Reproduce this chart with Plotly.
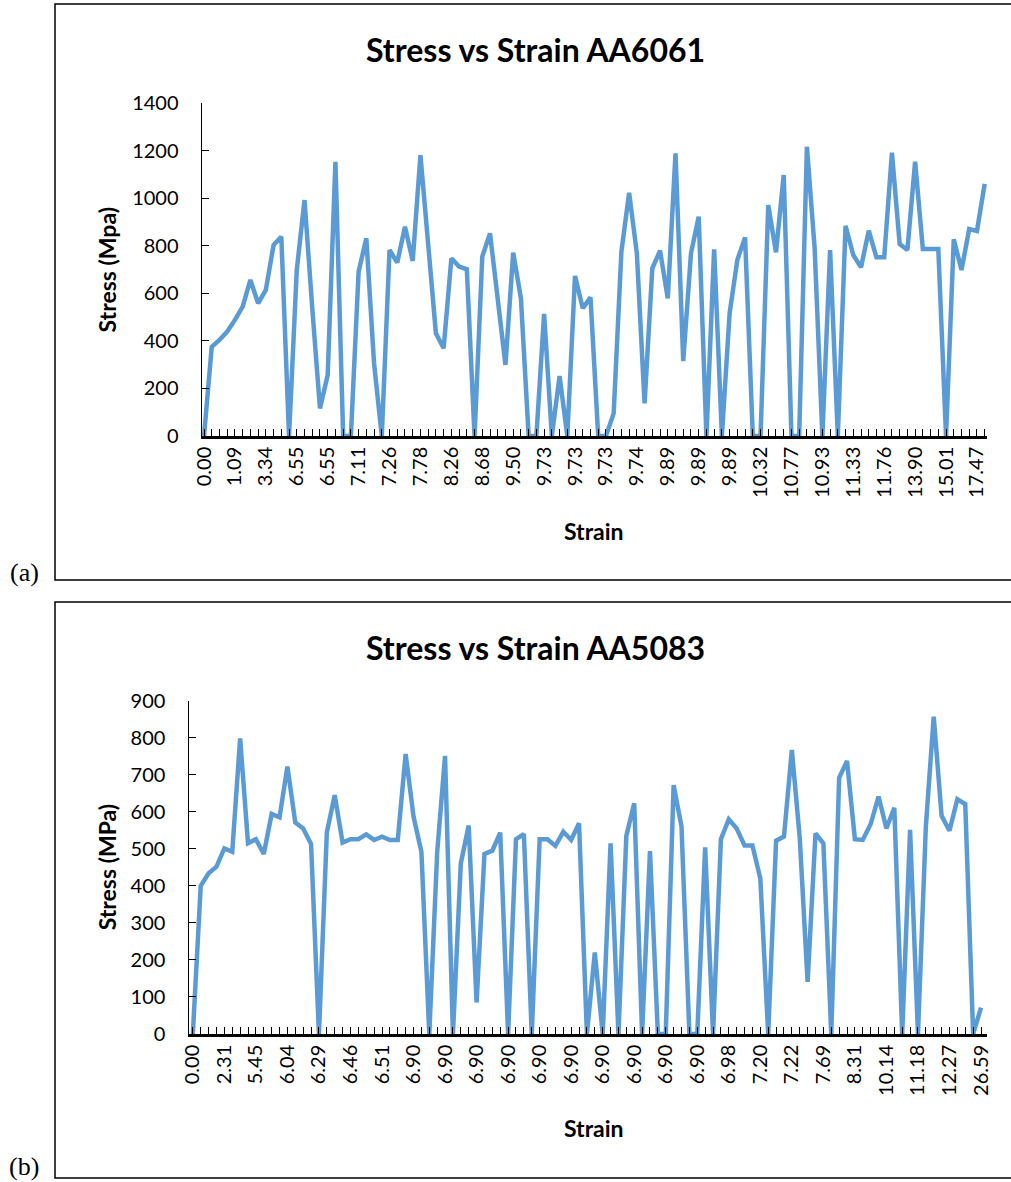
import plotly.graph_objects as go

W, H = 1011, 1182

# Stress readings (MPa) for every recorded point, AA6061
stress_6061 = [
    0, 375, 404, 439, 488, 544, 656, 558, 614, 803,
    838, 0, 698, 992, 540, 116, 256, 1153, 0, 0,
    691, 831, 305, 0, 782, 729, 880, 736, 1181, 800,
    432, 369, 747, 712, 701, 0, 754, 852, 576, 299,
    771, 579, 0, 0, 513, 0, 252, 0, 673, 537,
    583, 0, 0, 95, 775, 1023, 768, 137, 705, 779,
    579, 1188, 315, 768, 922, 0, 785, 0, 516, 740,
    835, 0, 0, 971, 772, 1097, 0, 0, 1216, 790,
    0, 782, 0, 884, 761, 709, 863, 751, 751, 1191,
    807, 782, 1153, 786, 786, 786, 0, 827, 698, 870,
    862, 1060,
]
# Strain values printed on every fourth category, AA6061
strain_ticks_6061 = [
    "0.00", "1.09", "3.34", "6.55", "6.55", "7.11", "7.26", "7.78", "8.26",
    "8.68", "9.50", "9.73", "9.73", "9.73", "9.74", "9.89", "9.89", "9.89",
    "10.32", "10.77", "10.93", "11.33", "11.76", "13.90", "15.01", "17.47",
]

# Stress readings (MPa) for every recorded point, AA5083
stress_5083 = [
    0, 400, 434, 452, 501, 492, 798, 515, 526, 486,
    594, 585, 722, 571, 555, 513, 0, 544, 645, 517,
    526, 526, 539, 524, 533, 524, 524, 756, 587, 492,
    0, 490, 751, 0, 461, 563, 85, 486, 495, 544,
    0, 526, 540, 0, 526, 526, 508, 546, 524, 569,
    0, 220, 0, 515, 0, 535, 623, 0, 494, 0,
    0, 672, 560, 0, 0, 504, 0, 526, 580, 555,
    509, 509, 420, 0, 522, 533, 767, 530, 141, 542,
    515, 0, 692, 737, 526, 524, 567, 641, 555, 611,
    0, 551, 0, 560, 857, 589, 549, 634, 621, 0,
    71,
]
# Strain values printed on every fourth category, AA5083
strain_ticks_5083 = [
    "0.00", "2.31", "5.45", "6.04", "6.29", "6.46", "6.51", "6.90", "6.90",
    "6.90", "6.90", "6.90", "6.90", "6.90", "6.90", "6.90", "6.90", "6.98",
    "7.20", "7.22", "7.69", "8.31", "10.14", "11.18", "12.27", "26.59",
]

LABEL_STEP = 4
LINE_COLOR = "#5B9BD5"
FONT = "Lato"


def px_x(v):
    """Pixel column -> paper x."""
    return v / W


def px_y(v):
    """Pixel row -> paper y."""
    return 1 - v / H


def category_ticks(n, labels):
    vals = list(range(n))
    text = [labels[i // LABEL_STEP] if i % LABEL_STEP == 0 else "" for i in vals]
    return vals, text


fig = go.Figure()

panels = [
    dict(stress=stress_6061, ticks=strain_ticks_6061, xa="x", ya="y",
         title="Stress vs Strain AA6061", ytitle="Stress (Mpa)",
         left=201.7, right=987, top=103, bottom=436,
         xrange=[-0.3, 101.3], yrange=[0, 1400], dy=200,
         box=(55, 4, 580), tag="(a)", tag_y=572, title_y=50, xtitle_y=531),
    dict(stress=stress_5083, ticks=strain_ticks_5083, xa="x2", ya="y2",
         title="Stress vs Strain AA5083", ytitle="Stress (MPa)",
         left=188.5, right=987, top=700.7, bottom=1034,
         xrange=[-0.55, 100.76], yrange=[0, 900], dy=100,
         box=(55, 602, 1178), tag="(b)", tag_y=1166, title_y=647, xtitle_y=1128),
]

layout_axes = {}
shapes = []
annotations = []

for k, p in enumerate(panels):
    n = len(p["stress"])
    fig.add_trace(go.Scatter(
        x=list(range(n)), y=p["stress"], mode="lines",
        line=dict(color=LINE_COLOR, width=4.5),
        xaxis=p["xa"], yaxis=p["ya"], showlegend=False, hoverinfo="x+y",
        cliponaxis=False,
    ))
    tv, tt = category_ticks(n, p["ticks"])
    suffix = "" if k == 0 else str(k + 1)
    layout_axes["xaxis" + suffix] = dict(
        domain=[px_x(p["left"]), px_x(p["right"])],
        anchor=p["ya"], range=p["xrange"], automargin=False,
        tickmode="array", tickvals=tv, ticktext=tt, tickangle=-90,
        ticks="inside", ticklen=7, tickwidth=1.3, tickcolor="black",
        showline=True, linecolor="black", linewidth=2.5,
        showgrid=False, zeroline=False,
        tickfont=dict(family=FONT, size=20, color="black"),
    )
    layout_axes["yaxis" + suffix] = dict(
        domain=[px_y(p["bottom"]), px_y(p["top"])],
        anchor=p["xa"], range=p["yrange"], dtick=p["dy"], tick0=0,
        automargin=False,
        ticks="inside", ticklen=7, tickwidth=1.3, tickcolor="black",
        showline=True, linecolor="black", linewidth=1.3,
        showgrid=False, zeroline=False, ticklabelstandoff=18,
        tickfont=dict(family=FONT, size=20, color="black"),
    )
    bx, btop, bbot = p["box"]
    shapes.append(dict(
        type="rect", xref="paper", yref="paper",
        x0=px_x(bx), x1=px_x(W + 10), y0=px_y(bbot), y1=px_y(btop),
        line=dict(color="black", width=1.5), fillcolor="rgba(0,0,0,0)",
    ))
    annotations.append(dict(
        text="<b>%s</b>" % p["title"], xref="paper", yref="paper",
        x=px_x(535), y=px_y(p["title_y"]), showarrow=False,
        xanchor="center", yanchor="middle",
        font=dict(family=FONT, size=32, color="black"),
    ))
    annotations.append(dict(
        text="<b>%s</b>" % p["ytitle"], xref="paper", yref="paper",
        x=px_x(107), y=px_y((p["top"] + p["bottom"]) / 2), textangle=-90,
        showarrow=False, xanchor="center", yanchor="middle",
        font=dict(family=FONT, size=23, color="black"),
    ))
    annotations.append(dict(
        text="<b>Strain</b>", xref="paper", yref="paper",
        x=px_x(594), y=px_y(p["xtitle_y"]), showarrow=False,
        xanchor="center", yanchor="middle",
        font=dict(family=FONT, size=23, color="black"),
    ))
    annotations.append(dict(
        text=p["tag"], xref="paper", yref="paper",
        x=px_x(24), y=px_y(p["tag_y"]), showarrow=False,
        xanchor="center", yanchor="middle",
        font=dict(family="Liberation Serif", size=26, color="black"),
    ))

fig.update_layout(
    template="none",
    width=W, height=H, autosize=False,
    margin=dict(l=0, r=0, t=0, b=0, pad=0, autoexpand=False),
    paper_bgcolor="white", plot_bgcolor="white",
    shapes=shapes, annotations=annotations, **layout_axes,
)

fig.write_html("out.html")
